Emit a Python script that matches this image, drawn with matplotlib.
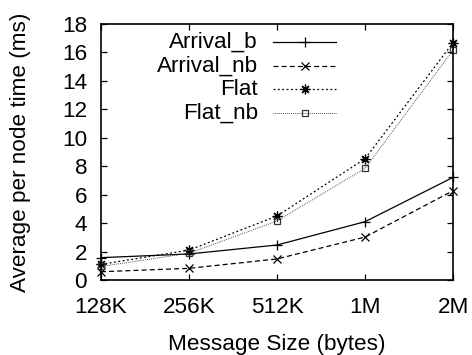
import matplotlib
matplotlib.use("Agg")
import matplotlib.pyplot as plt
from matplotlib.lines import Line2D

plt.rcParams['font.family'] = ['Liberation Sans', 'DejaVu Sans']

sizes = ["128K", "256K", "512K", "1M", "2M"]
arrival_b = [1.57, 1.83, 2.46, 4.10, 7.22]
arrival_nb = [0.58, 0.82, 1.48, 3.02, 6.28]
flat = [1.10, 2.10, 4.50, 8.53, 16.69]
flat_nb = [0.95, 1.88, 4.15, 7.85, 16.17]

series = [
    ("Arrival_b", arrival_b, dict(ls="-", marker="+", ms=7, color="black", lw=0.9)),
    ("Arrival_nb", arrival_nb, dict(ls=(0, (4, 2.5)), marker="x", ms=6, color="black", lw=0.9)),
    ("Flat", flat, dict(ls=(0, (1.5, 2)), marker=(8, 2, 0), ms=7, color="black", lw=0.9)),
    ("Flat_nb", flat_nb, dict(ls=(0, (0.8, 1.2)), marker="s", ms=5, mfc="none", color="#333333", lw=0.7)),
]

FS = 16.2

fig = plt.figure(figsize=(4.72, 3.55), dpi=100)
ax = fig.add_axes([0.214, 0.2113, 0.746, 0.7211])

x = list(range(len(sizes)))
for name, vals, st in series:
    ax.plot(x, vals, clip_on=False, mew=0.9, **st)

ax.set_xlim(0, len(sizes) - 1)
ax.set_ylim(0, 18)
ax.set_xticks(x)
ax.set_xticklabels(sizes)
ax.set_yticks(range(0, 19, 2))
ax.tick_params(direction="in", length=4.5, width=0.9, labelsize=FS,
               top=True, right=True)
ax.tick_params(axis="y", pad=10)
ax.tick_params(axis="x", pad=12)
for s in ax.spines.values():
    s.set_linewidth(1.2)

ax.set_xlabel("Message Size (bytes)", fontsize=FS, labelpad=12)
ax.set_ylabel("Average per node time (ms)", fontsize=FS, labelpad=22)

# key: right-aligned names followed by line samples
rows = [0.930, 0.834, 0.746, 0.652]
for (name, vals, st), yy in zip(series, rows):
    ax.text(0.446, yy, name, transform=ax.transAxes, ha="right", va="center",
            fontsize=FS)
    ls = st.get("ls")
    ax.add_line(Line2D([0.4886, 0.6676], [yy, yy], transform=ax.transAxes,
                       ls=ls, color=st["color"], lw=st["lw"]))
    ax.add_line(Line2D([0.578], [yy], transform=ax.transAxes, ls="none",
                       marker=st["marker"], ms=st["ms"], mew=0.9,
                       mfc=st.get("mfc", st["color"]), color=st["color"]))

fig.savefig("out.png", dpi=100)
